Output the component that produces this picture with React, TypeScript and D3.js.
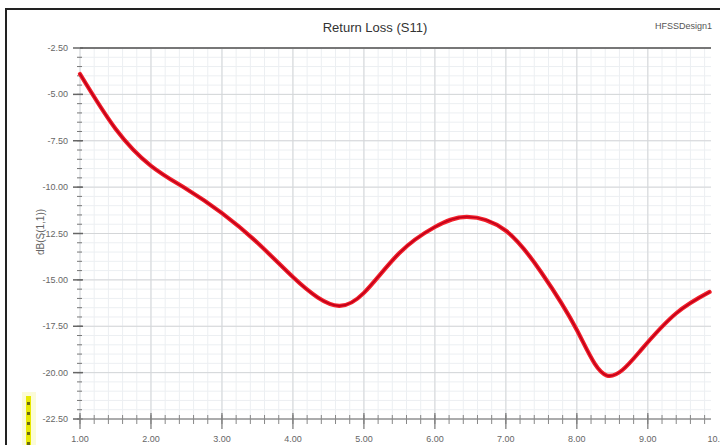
import React from 'react';
import * as d3 from 'd3';

// S11 trace (GHz, dB)
const freqs = [1.0, 1.5, 2.0, 2.5, 3.0, 3.5, 4.0, 4.35, 4.65, 5.0, 5.5, 6.0, 6.45, 7.0, 7.5, 8.0, 8.42, 8.9, 9.4, 9.87];
const s11 = [-3.9, -6.85, -8.85, -10.1, -11.4, -13.0, -14.85, -15.95, -16.4, -15.7, -13.55, -12.15, -11.6, -12.35, -14.6, -17.7, -20.15, -18.8, -16.8, -15.65];

const xTicks = [1, 2, 3, 4, 5, 6, 7, 8, 9, 10];
const yTicks = [-2.5, -5, -7.5, -10, -12.5, -15, -17.5, -20, -22.5];

const W = 720;
const H = 445;
const left = 80;
const right = 711;
const top = 48;
const bottom = 419;
const font = '"Liberation Sans Narrow", "Liberation Sans", Arial, sans-serif';

const App: React.FC = () => {
  const x = d3.scaleLinear().domain([1, 9.89]).range([left, right]);
  const y = d3.scaleLinear().domain([-22.5, -2.5]).range([bottom, top]);

  const data = freqs.map((f, i) => ({ f, v: s11[i] }));
  const line = d3.line<{ f: number; v: number }>()
    .x(d => x(d.f))
    .y(d => y(d.v))
    .curve(d3.curveNatural);
  const path = line(data) || '';

  const xMinor = d3.range(1, 9.89, 0.2);
  const yMinor = d3.range(-22.5, -2.5, 0.5);

  return (
    <svg width={W} height={H} style={{ position: 'absolute', left: 0, top: 0, background: '#fff' }}>
      {/* outer frame */}
      <rect x={6} y={9} width={W + 20} height={H + 20} fill="#fff" stroke="#222" strokeWidth={2} />

      {/* title */}
      <text x={375} y={32} textAnchor="middle" fontFamily={font} fontSize={13} fill="#333">Return Loss (S11)</text>
      <text x={712} y={29} textAnchor="end" fontFamily={font} fontSize={9} fill="#555">HFSSDesign1</text>

      {/* minor grid */}
      {xMinor.map((f, i) => (
        <line key={'xm' + i} x1={x(f)} x2={x(f)} y1={top} y2={bottom} stroke="#eceff2" strokeWidth={1} />
      ))}
      {yMinor.map((v, i) => (
        <line key={'ym' + i} x1={left} x2={right} y1={y(v)} y2={y(v)} stroke="#eceff2" strokeWidth={1} />
      ))}
      {/* major grid */}
      {xTicks.filter(t => t < 9.89).map(t => (
        <line key={'xg' + t} x1={x(t)} x2={x(t)} y1={top} y2={bottom} stroke="#d4d6d8" strokeWidth={1} />
      ))}
      {yTicks.map(t => (
        <line key={'yg' + t} x1={left} x2={right} y1={y(t)} y2={y(t)} stroke="#d4d6d8" strokeWidth={1} />
      ))}

      {/* top border */}
      <line x1={left} x2={right} y1={top} y2={top} stroke="#777" strokeWidth={2} />

      {/* y axis ticks */}
      {yMinor.map((v, i) => (
        <line key={'yt' + i} x1={left - 3} x2={left + 2} y1={y(v)} y2={y(v)} stroke="#777" strokeWidth={1} />
      ))}
      {yTicks.map(t => (
        <g key={'yl' + t}>
          <line x1={left - 7} x2={left + 3} y1={y(t)} y2={y(t)} stroke="#666" strokeWidth={1.5} />
          <text x={left - 12} y={y(t) + 3} textAnchor="end" fontFamily={font} fontSize={9} fill="#666">{t.toFixed(2)}</text>
        </g>
      ))}

      {/* x axis */}
      <line x1={left} x2={right} y1={bottom} y2={bottom} stroke="#999" strokeWidth={1.5} />
      {xMinor.map((f, i) => (
        <line key={'xt' + i} x1={x(f)} x2={x(f)} y1={bottom - 4} y2={bottom + 5} stroke="#888" strokeWidth={1} />
      ))}
      {xTicks.map(t => (
        <g key={'xl' + t}>
          {t < 9.89 && <line x1={x(t)} x2={x(t)} y1={bottom - 6} y2={bottom + 10} stroke="#777" strokeWidth={1.2} />}
          <text x={x(t)} y={442} textAnchor="middle" fontFamily={font} fontSize={9} fill="#666">{t.toFixed(2)}</text>
        </g>
      ))}

      {/* y axis title */}
      <text transform={`translate(44,232) rotate(-90)`} textAnchor="middle" fontFamily={font} fontSize={10} fill="#666">dB(S(1,1))</text>

      {/* marker strip */}
      <rect x={22} y={392} width={14} height={60} fill="#fbfbd8" />
      <rect x={26} y={396} width={5} height={50} fill="#e8e800" />
      {[402, 412, 422, 432, 442].map(v => (
        <rect key={'mk' + v} x={27} y={v} width={3} height={3} fill="#6b6b10" />
      ))}

      {/* trace */}
      <path d={path} fill="none" stroke="#f2202a" strokeWidth={4.2} strokeLinecap="round" />
      <path d={path} fill="none" stroke="#c0001a" strokeWidth={1.6} strokeLinecap="round" />
    </svg>
  );
};

export default App;
